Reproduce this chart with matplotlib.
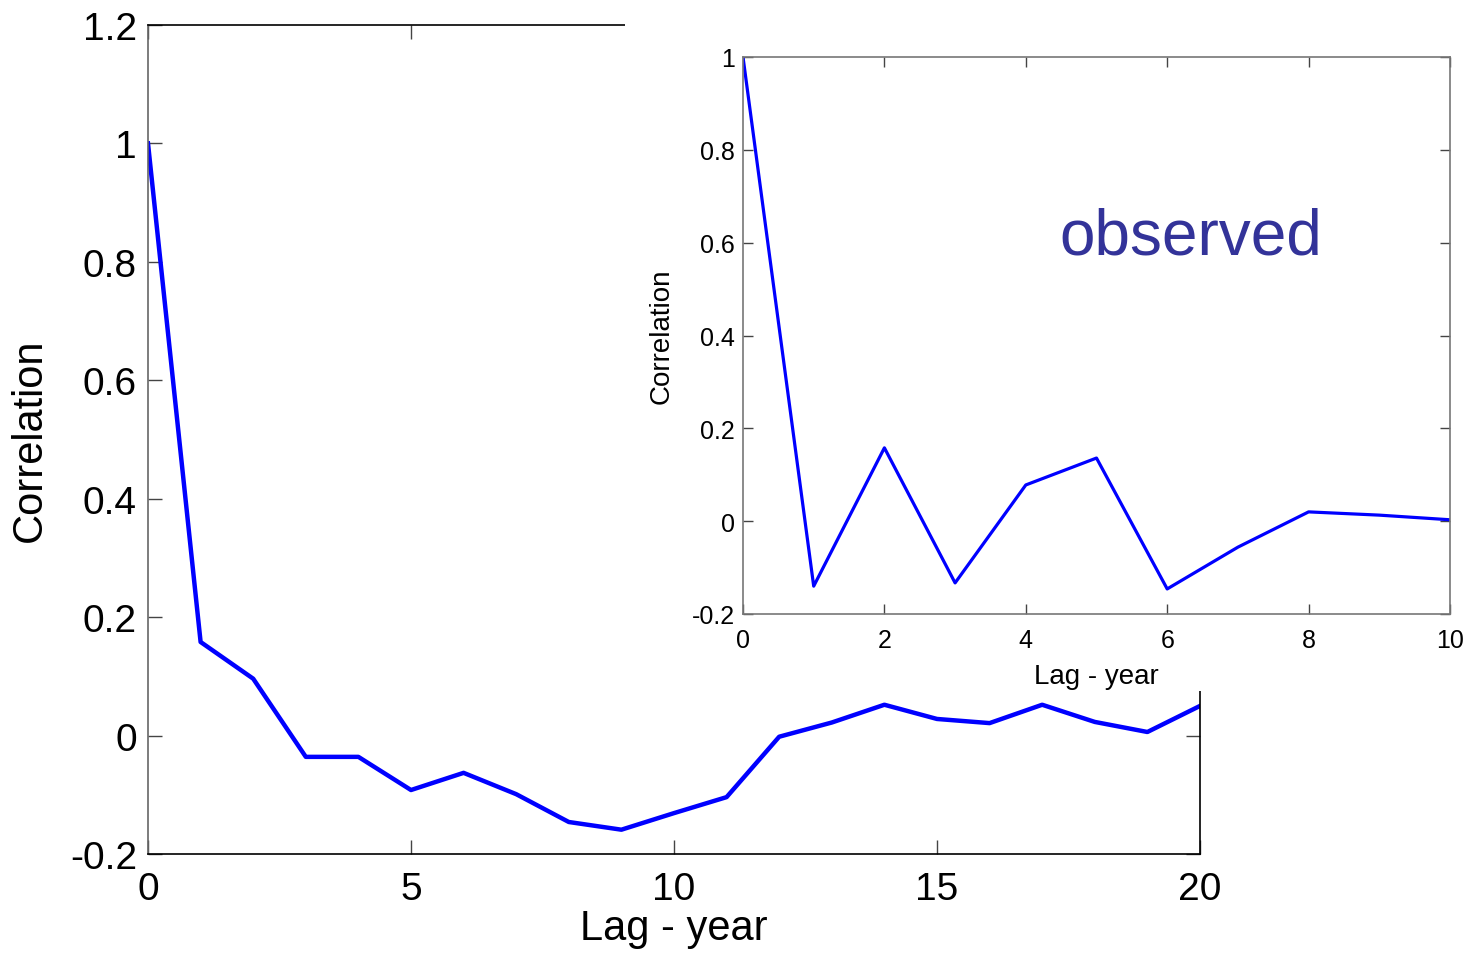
import matplotlib
matplotlib.use("Agg")
import matplotlib.pyplot as plt
from matplotlib.patches import Rectangle
from matplotlib.ticker import FormatStrFormatter

plt.rcParams['font.family'] = ['Liberation Sans', 'DejaVu Sans']

# main panel: model lag correlation, 0-20 years
lag_main = list(range(21))
corr_main = [1.0, 0.158, 0.096, -0.036, -0.036, -0.092, -0.063, -0.099, -0.146, -0.159,
             -0.131, -0.104, -0.002, 0.022, 0.052, 0.028, 0.021, 0.052, 0.023, 0.006, 0.050]

# inset: observed lag correlation, 0-10 years
lag_obs = list(range(11))
corr_obs = [1.0, -0.14, 0.158, -0.133, 0.078, 0.136, -0.146, -0.056, 0.02, 0.013, 0.003]

fig = plt.figure(figsize=(14.8, 9.54), dpi=100)

def style_axes(ax, fs, ticklen, xpad, ypad):
    ax.tick_params(direction='in', top=True, right=True, length=ticklen, width=1,
                   labelsize=fs, color='#444444')
    ax.tick_params(axis='x', pad=xpad)
    ax.tick_params(axis='y', pad=ypad)
    ax.xaxis.set_major_formatter(FormatStrFormatter('%g'))
    ax.yaxis.set_major_formatter(FormatStrFormatter('%g'))
    for s in ax.spines.values():
        s.set_linewidth(1.2)
        s.set_color('black')
    ax.spines['left'].set_color('#666666')

# main axes
ax = fig.add_axes([0.1, 0.1038, 0.7108, 0.869])
ax.plot(lag_main, corr_main, color='blue', lw=3.2)
ax.set_xlim(0, 20)
ax.set_ylim(-0.2, 1.2)
ax.set_xticks([0, 5, 10, 15, 20])
ax.set_yticks([-0.2, 0, 0.2, 0.4, 0.6, 0.8, 1.0, 1.2])
style_axes(ax, 28, 10, 12, 8)
ax.set_xlabel('Lag - year', fontsize=30, labelpad=1)
ax.set_ylabel('Correlation', fontsize=30, labelpad=14)

# white patch hiding part of main axes behind the inset
fig.patches.append(Rectangle((625 / 1480, (954 - 692) / 954), 1, 1,
                             transform=fig.transFigure, facecolor='white',
                             edgecolor='none', zorder=5))

# inset axes
ins = fig.add_axes([743 / 1480, (954 - 615) / 954, 707 / 1480, 557 / 954])
ins.set_zorder(10)
ins.plot(lag_obs, corr_obs, color='blue', lw=2.3)
ins.set_xlim(0, 10)
ins.set_ylim(-0.2, 1.0)
ins.set_xticks([0, 2, 4, 6, 8, 10])
ins.set_yticks([-0.2, 0, 0.2, 0.4, 0.6, 0.8, 1.0])
style_axes(ins, 18, 7, 10, 6)
for s in ins.spines.values():
    s.set_color('#777777')
ins.set_xlabel('Lag - year', fontsize=20, labelpad=8)
ins.set_ylabel('Correlation', fontsize=20, labelpad=12)
ins.text(0.634, 0.677, 'observed', transform=ins.transAxes, fontsize=46,
         color='#333399', ha='center', va='center')

fig.savefig('out.png', dpi=100)
